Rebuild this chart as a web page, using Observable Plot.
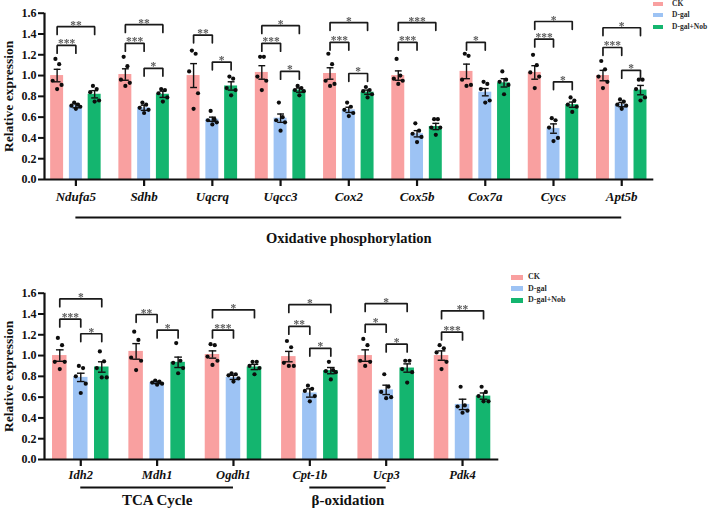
<!DOCTYPE html>
<html>
<head>
<meta charset="utf-8">
<script src="https://cdn.jsdelivr.net/npm/d3@7"></script>
<script src="https://cdn.jsdelivr.net/npm/@observablehq/plot@0.6"></script>
<style>
  body { margin: 0; background: #fff; }
  #fig { position: relative; width: 709px; height: 510px; overflow: hidden; background: #fff; }
  .panel { position: absolute; left: 0; }
  .legend { position: absolute; font-family: "Liberation Serif", "Times New Roman", serif; font-weight: bold; color: #2a2a2a; }
  .legend .row { position: absolute; left: 0; white-space: nowrap; }
  .legend .sw { position: absolute; left: 0; }
  .legend .lb { position: absolute; }
</style>
</head>
<body>
<div id="fig"></div>
<script>
// ---- shared ----
const groups = ["CK", "D-gal", "D-gal+Nob"];
const colors = ["#F9A0A0", "#9DC3F4", "#14B56F"];
const yTicks = [0, 0.2, 0.4, 0.6, 0.8, 1.0, 1.2, 1.4, 1.6];

// ---- oxidative phosphorylation panel ----
const oxGenes = ["Ndufa5", "Sdhb", "Uqcrq", "Uqcc3", "Cox2", "Cox5b", "Cox7a", "Cycs", "Apt5b"];
const oxMean = [
  [1.00, 0.71, 0.82], [1.01, 0.69, 0.82], [1.00, 0.58, 0.90],
  [1.03, 0.59, 0.86], [1.02, 0.67, 0.84], [1.00, 0.44, 0.51],
  [1.04, 0.84, 0.93], [1.03, 0.49, 0.72], [1.00, 0.72, 0.86]
];
const oxSem = [
  [0.060, 0.020, 0.035], [0.055, 0.025, 0.030], [0.115, 0.020, 0.040],
  [0.065, 0.040, 0.020], [0.055, 0.025, 0.020], [0.045, 0.030, 0.030],
  [0.070, 0.035, 0.040], [0.065, 0.045, 0.025], [0.050, 0.020, 0.045]
];
const oxDots = [
  [[1.16, 1.11, 0.95, 0.91, 0.87], [0.74, 0.72, 0.71, 0.70, 0.68], [0.90, 0.87, 0.84, 0.76, 0.75]],
  [[1.18, 1.09, 0.96, 0.93, 0.90], [0.74, 0.72, 0.69, 0.67, 0.64], [0.87, 0.86, 0.83, 0.79, 0.75]],
  [[1.24, 1.21, 1.04, 0.83, 0.68], [0.66, 0.58, 0.57, 0.55, 0.53], [0.99, 0.97, 0.88, 0.86, 0.81]],
  [[1.18, 1.18, 0.99, 0.95, 0.86], [0.74, 0.60, 0.57, 0.55, 0.47], [0.90, 0.88, 0.86, 0.85, 0.81]],
  [[1.21, 1.11, 0.95, 0.92, 0.90], [0.74, 0.70, 0.67, 0.64, 0.61], [0.89, 0.86, 0.85, 0.82, 0.79]],
  [[1.16, 1.00, 0.97, 0.95, 0.92], [0.54, 0.47, 0.44, 0.41, 0.36], [0.58, 0.58, 0.50, 0.50, 0.43]],
  [[1.21, 1.19, 0.96, 0.91, 0.90], [0.94, 0.92, 0.87, 0.76, 0.74], [1.04, 0.96, 0.94, 0.91, 0.82]],
  [[1.20, 1.10, 1.03, 0.99, 0.88], [0.59, 0.57, 0.50, 0.40, 0.37], [0.79, 0.76, 0.72, 0.70, 0.65]],
  [[1.14, 1.06, 0.99, 0.94, 0.88], [0.77, 0.75, 0.72, 0.71, 0.68], [0.96, 0.96, 0.87, 0.79, 0.76]]
];
// [gene index, from group, to group, bracket height, significance]
const oxSig = [
  [0, 0, 2, 1.47, "**"], [0, 0, 1, 1.29, "***"],
  [1, 0, 2, 1.49, "**"], [1, 0, 1, 1.31, "***"], [1, 1, 2, 1.07, "*"],
  [2, 0, 1, 1.39, "**"], [2, 1, 2, 1.13, "*"],
  [3, 0, 2, 1.48, "*"], [3, 0, 1, 1.31, "***"], [3, 1, 2, 1.04, "*"],
  [4, 0, 2, 1.51, "*"], [4, 0, 1, 1.32, "***"], [4, 1, 2, 1.02, "*"],
  [5, 0, 2, 1.51, "***"], [5, 0, 1, 1.32, "***"],
  [6, 0, 1, 1.32, "*"],
  [7, 0, 2, 1.52, "*"], [7, 0, 1, 1.35, "***"], [7, 1, 2, 0.94, "*"],
  [8, 0, 2, 1.46, "*"], [8, 0, 1, 1.27, "***"], [8, 1, 2, 1.05, "*"]
];
const oxPathways = [["Oxidative phosphorylation", 0, 8]];

// ---- TCA cycle / beta-oxidation panel ----
const metGenes = ["Idh2", "Mdh1", "Ogdh1", "Cpt-1b", "Ucp3", "Pdk4"];
const metMean = [
  [1.00, 0.79, 0.89], [1.04, 0.74, 0.935], [1.01, 0.79, 0.89],
  [0.99, 0.64, 0.855], [1.00, 0.67, 0.88], [1.00, 0.53, 0.61]
];
const metSem = [
  [0.055, 0.040, 0.050], [0.075, 0.010, 0.050], [0.035, 0.020, 0.025],
  [0.050, 0.040, 0.030], [0.055, 0.045, 0.040], [0.045, 0.050, 0.030]
];
const metDots = [
  [[1.17, 1.10, 0.94, 0.94, 0.87], [0.90, 0.88, 0.80, 0.73, 0.64], [1.04, 0.945, 0.88, 0.79, 0.79]],
  [[1.23, 1.15, 0.98, 0.95, 0.86], [0.76, 0.75, 0.74, 0.73, 0.72], [1.12, 0.95, 0.93, 0.88, 0.83]],
  [[1.11, 1.10, 0.99, 0.95, 0.91], [0.83, 0.82, 0.81, 0.78, 0.75], [0.94, 0.94, 0.90, 0.88, 0.82]],
  [[1.14, 1.08, 0.93, 0.90, 0.90], [0.71, 0.68, 0.66, 0.61, 0.56], [0.94, 0.86, 0.85, 0.84, 0.77]],
  [[1.16, 1.10, 0.95, 0.94, 0.90], [0.82, 0.70, 0.65, 0.60, 0.59], [0.95, 0.95, 0.87, 0.84, 0.74]],
  [[1.10, 1.07, 1.03, 0.94, 0.87], [0.70, 0.52, 0.51, 0.47, 0.45], [0.70, 0.65, 0.61, 0.56, 0.56]]
];
const metSig = [
  [0, 0, 2, 1.545, "*"], [0, 0, 1, 1.35, "***"], [0, 1, 2, 1.21, "*"],
  [1, 0, 1, 1.395, "**"], [1, 1, 2, 1.245, "*"],
  [2, 0, 2, 1.44, "*"], [2, 0, 1, 1.245, "***"],
  [3, 0, 2, 1.49, "*"], [3, 0, 1, 1.28, "**"], [3, 1, 2, 1.07, "*"],
  [4, 0, 2, 1.50, "*"], [4, 0, 1, 1.30, "*"], [4, 1, 2, 1.11, "*"],
  [5, 0, 2, 1.43, "**"], [5, 0, 1, 1.225, "***"]
];
const metPathways = [["TCA Cycle", 0, 2], ["β-oxidation", 3, 4]];

// ---- drawing ----
const SERIF = "Liberation Serif";
const BAR_OFFSET = 0.275;   // distance between neighbouring bars, in gene units
const BAR_W = 0.19;         // bar width, in gene units
const CAP = 0.05;           // half width of error-bar caps
const DROP = 0.075;         // length of bracket legs, in y units
const JITTER = [-0.025, 0.03, -0.065, 0.065, 0.0];

const xOf = (i, j) => i + (j - 1) * BAR_OFFSET;

function panel(o) {
  const bars = o.genes.flatMap((g, i) => groups.map((grp, j) => ({
    i, j, group: grp, mean: o.means[i][j], sem: o.sems[i][j]
  })));
  const caps = bars.flatMap(d => [d.mean - d.sem, d.mean + d.sem].map(y => ({x: xOf(d.i, d.j), y})));
  const dots = o.genes.flatMap((g, i) => groups.flatMap((grp, j) =>
    o.dots[i][j].map((v, k) => ({x: xOf(i, j) + JITTER[k], y: v}))));
  const sig = o.sig.map(([i, a, b, h, label], id) => ({id, xa: xOf(i, a), xb: xOf(i, b), h, label}));
  const bracketPts = sig.flatMap(s => [
    {id: s.id, x: s.xa, y: s.h - DROP}, {id: s.id, x: s.xa, y: s.h},
    {id: s.id, x: s.xb, y: s.h}, {id: s.id, x: s.xb, y: s.h - DROP}
  ]);
  const paths = o.pathways.map(([label, from, to]) => ({label, from: xOf(from, 1), to: xOf(to, 1)}));

  return Plot.plot({
    width: 709,
    height: o.height,
    marginLeft: 44,
    marginRight: o.marginRight,
    marginTop: o.marginTop,
    marginBottom: o.marginBottom,
    style: {fontFamily: SERIF, fontWeight: "bold", color: "#111", background: "#fff", overflow: "visible"},
    x: {domain: o.xDomain},
    y: {domain: [0, 1.6]},
    color: {domain: groups, range: colors},
    marks: [
      Plot.rect(bars, {x1: d => xOf(d.i, d.j) - BAR_W / 2, x2: d => xOf(d.i, d.j) + BAR_W / 2, y1: 0, y2: "mean", fill: "group"}),
      Plot.ruleX(bars, {x: d => xOf(d.i, d.j), y1: d => d.mean - d.sem, y2: d => d.mean + d.sem, stroke: "#111", strokeWidth: 1.4}),
      Plot.link(caps, {x1: d => d.x - CAP, x2: d => d.x + CAP, y1: "y", y2: "y", stroke: "#111", strokeWidth: 1.4}),
      Plot.dot(dots, {x: "x", y: "y", r: 2.1, fill: "#0d0d0d", stroke: null}),
      Plot.line(bracketPts, {x: "x", y: "y", z: "id", stroke: "#1a1a1a", strokeWidth: 1.7, strokeLinejoin: "miter"}),
      Plot.text(sig, {x: d => (d.xa + d.xb) / 2, y: "h", text: "label", lineAnchor: "bottom", dy: 2, fill: "#5c5c5c",
        fontSize: 11.5, fontFamily: SERIF, fontWeight: "bold", imageFilter: "grayscale(1)"}),
      Plot.ruleY([0], {stroke: "#111", strokeWidth: 2.2}),
      Plot.ruleX([o.xDomain[0]], {y1: 0, y2: 1.6, stroke: "#111", strokeWidth: 2.2}),
      Plot.axisY({ticks: yTicks, tickFormat: d3.format(".1f"), tickSize: 6, tickPadding: 2, strokeWidth: 2, fontSize: 12, label: null}),
      Plot.axisX({ticks: d3.range(o.genes.length), tickFormat: i => o.genes[i], tickSize: 7, tickPadding: o.tickPadding,
        strokeWidth: 2.2, fontSize: o.geneFont, fontStyle: "italic", label: null}),
      Plot.text(["Relative expression"], {frameAnchor: "left", textAnchor: "middle", rotate: -90, dx: -36,
        fontSize: 13.5, fontFamily: SERIF, fontWeight: "bold", fill: "#111"}),
      Plot.ruleY(paths, {y: 0, x1: "from", x2: "to", dy: o.pathLine, stroke: "#111", strokeWidth: 2}),
      Plot.text(paths, {x: d => (d.from + d.to) / 2, y: 0, dy: o.pathText, text: "label", fontSize: o.pathFont, fontFamily: SERIF, fontWeight: "bold", fill: "#111"})
    ]
  });
}

function legend(o) {
  const box = d3.create("div").attr("class", "legend")
    .style("left", o.left + "px").style("top", o.top + "px").style("font-size", o.font + "px");
  groups.forEach((g, k) => {
    const row = box.append("div").attr("class", "row").style("top", (k * o.step) + "px");
    row.append("div").attr("class", "sw")
      .style("width", o.sw + "px").style("height", o.sh + "px")
      .style("top", (-o.sh / 2) + "px").style("background", colors[k]);
    row.append("div").attr("class", "lb").style("left", o.textLeft + "px")
      .style("top", (-o.font * 0.62) + "px").text(g);
  });
  return box.node();
}

const fig = document.getElementById("fig");

const oxPlot = panel({
  genes: oxGenes, means: oxMean, sems: oxSem, dots: oxDots, sig: oxSig, pathways: oxPathways,
  height: 250, marginTop: 12.7, marginBottom: 71, marginRight: 55.7, xDomain: [-0.46, 8.47],
  tickPadding: 5, geneFont: 13, pathLine: 38, pathText: 59, pathFont: 14.5
});
oxPlot.classList.add("panel");
oxPlot.style.top = "0px";
fig.appendChild(oxPlot);

const metPlot = panel({
  genes: metGenes, means: metMean, sems: metSem, dots: metDots, sig: metSig, pathways: metPathways,
  height: 260, marginTop: 42.7, marginBottom: 51, marginRight: 210.7, xDomain: [-0.475, 5.475],
  tickPadding: 4, geneFont: 12.5, pathLine: 28, pathText: 41, pathFont: 15
});
metPlot.classList.add("panel");
metPlot.style.top = "250px";
fig.appendChild(metPlot);

fig.appendChild(legend({left: 653, top: 3.5, step: 11.5, sw: 10, sh: 4, textLeft: 19, font: 7.5}));
fig.appendChild(legend({left: 511, top: 277, step: 11.5, sw: 12, sh: 5, textLeft: 17, font: 8}));
</script>
</body>
</html>
